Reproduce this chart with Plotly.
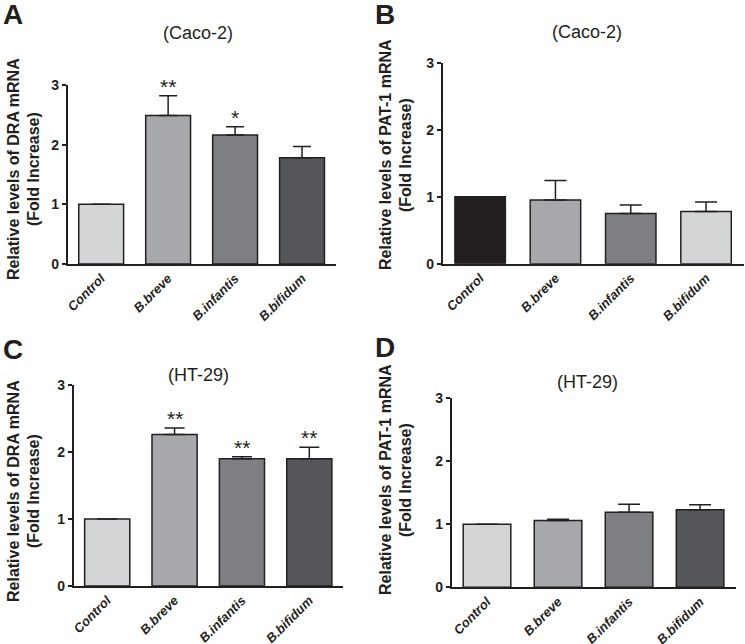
import plotly.graph_objects as go

W, H = 745, 644

categories = ["Control", "B.breve", "B.infantis", "B.bifidum"]

# Panel A: DRA mRNA, Caco-2
a_values = [1.0, 2.49, 2.16, 1.78]
a_errors = [0.0, 0.33, 0.14, 0.19]
a_stars = ["", "**", "*", ""]

# Panel B: PAT-1 mRNA, Caco-2
b_values = [1.0, 0.95, 0.75, 0.78]
b_errors = [0.0, 0.29, 0.125, 0.14]
b_stars = ["", "", "", ""]

# Panel C: DRA mRNA, HT-29
c_values = [1.0, 2.26, 1.90, 1.90]
c_errors = [0.0, 0.10, 0.03, 0.17]
c_stars = ["", "**", "**", "**"]

# Panel D: PAT-1 mRNA, HT-29
d_values = [1.0, 1.06, 1.19, 1.23]
d_errors = [0.0, 0.02, 0.13, 0.08]
d_stars = ["", "", "", ""]

y_ticks = [0, 1, 2, 3]

LIGHT, MID, DARK, DARKER, BLACK = "#d4d5d7", "#a7a8ab", "#7e7f83", "#555659", "#231f20"

panels = [
    dict(letter="A", title="(Caco-2)", ytitle="Relative levels of DRA mRNA",
         values=a_values, errors=a_errors, stars=a_stars,
         colors=[LIGHT, MID, DARK, DARKER],
         xpx=(67.7, 335.5), ypx=(85, 264), tpos=(198, 33), lpos=(13, 15),
         yt=(13, 33), ytc=169, errw=9),
    dict(letter="B", title="(Caco-2)", ytitle="Relative levels of PAT-1 mRNA",
         values=b_values, errors=b_errors, stars=b_stars,
         colors=[BLACK, MID, DARK, LIGHT],
         xpx=(442.5, 743.7), ypx=(62.7, 263.7), tpos=(587, 32), lpos=(385, 15),
         yt=(385, 405), ytc=155, errw=11),
    dict(letter="C", title="(HT-29)", ytitle="Relative levels of DRA mRNA",
         values=c_values, errors=c_errors, stars=c_stars,
         colors=[LIGHT, MID, DARK, DARKER],
         xpx=(73.5, 343), ypx=(385, 586), tpos=(198, 375), lpos=(13, 349),
         yt=(13, 33), ytc=491, errw=10),
    dict(letter="D", title="(HT-29)", ytitle="Relative levels of PAT-1 mRNA",
         values=d_values, errors=d_errors, stars=d_stars,
         colors=[LIGHT, MID, DARK, DARKER],
         xpx=(451.5, 735.6), ypx=(398.3, 587.3), tpos=(587, 382), lpos=(385, 347),
         yt=(385, 405), ytc=480, errw=11),
]

fig = go.Figure()
annotations = []
layout = {}

for i, p in enumerate(panels, start=1):
    xa = "x" if i == 1 else f"x{i}"
    ya = "y" if i == 1 else f"y{i}"
    xk = "xaxis" if i == 1 else f"xaxis{i}"
    yk = "yaxis" if i == 1 else f"yaxis{i}"
    fig.add_trace(go.Bar(
        x=categories, y=p["values"], xaxis=xa, yaxis=ya,
        width=0.67,
        marker=dict(color=p["colors"], line=dict(color=BLACK, width=1.5)),
        error_y=dict(type="data", array=p["errors"], arrayminus=[0] * 4,
                     symmetric=False, color=BLACK, thickness=1.5, width=p["errw"]),
        showlegend=False, hoverinfo="skip",
    ))
    x0, x1 = p["xpx"]
    yt_, yb_ = p["ypx"]
    layout[xk] = dict(
        domain=[x0 / W, x1 / W], anchor=ya, range=[-0.5, 3.5], automargin=False,
        showline=True, linecolor=BLACK, linewidth=1.5, ticks="",
        tickangle=-45, showgrid=False, zeroline=False,
        tickfont=dict(family="Liberation Sans, Arial", size=13, color=BLACK,
                      weight="bold", style="italic"),
    )
    layout[yk] = dict(
        domain=[1 - yb_ / H, 1 - yt_ / H], anchor=xa, range=[0, 3], automargin=False,
        tickvals=y_ticks, showline=True, linecolor=BLACK, linewidth=1.5,
        ticks="outside", ticklen=4, tickwidth=1.5, tickcolor=BLACK,
        showgrid=False, zeroline=False,
        tickfont=dict(family="Liberation Sans, Arial", size=14, color=BLACK,
                      weight="bold"),
    )
    for cat, v, e, s in zip(categories, p["values"], p["errors"], p["stars"]):
        if s:
            annotations.append(dict(
                x=cat, y=v + e, xref=xa, yref=ya, text=s, showarrow=False,
                yanchor="bottom", yshift=-4,
                font=dict(family="Liberation Sans, Arial", size=21, color=BLACK),
            ))
    annotations.append(dict(
        x=p["tpos"][0] / W, y=1 - p["tpos"][1] / H, xref="paper", yref="paper",
        text=p["title"], showarrow=False, xanchor="center", yanchor="middle",
        font=dict(family="Liberation Sans, Arial", size=18, color=BLACK),
    ))
    annotations.append(dict(
        x=p["lpos"][0] / W, y=1 - p["lpos"][1] / H, xref="paper", yref="paper",
        text=f"<b>{p['letter']}</b>", showarrow=False, xanchor="center", yanchor="middle",
        font=dict(family="Liberation Sans, Arial", size=28, color=BLACK),
    ))
    for txt, xpos in zip([p["ytitle"], "(Fold Increase)"], p["yt"]):
        annotations.append(dict(
            x=xpos / W, y=1 - p["ytc"] / H, xref="paper", yref="paper",
            text=f"<b>{txt}</b>", showarrow=False, textangle=-90,
            xanchor="center", yanchor="middle",
            font=dict(family="Liberation Sans, Arial", size=16, color=BLACK),
        ))

fig.update_layout(
    width=W, height=H, margin=dict(l=0, r=0, t=0, b=0, autoexpand=False),
    paper_bgcolor="white", plot_bgcolor="white",
    bargap=0.33, annotations=annotations, **layout,
)

fig.write_html(
    "out.html",
    config={"displayModeBar": False},
    post_script="document.body.style.margin='0';document.body.style.padding='0';document.body.style.overflow='hidden';",
)
